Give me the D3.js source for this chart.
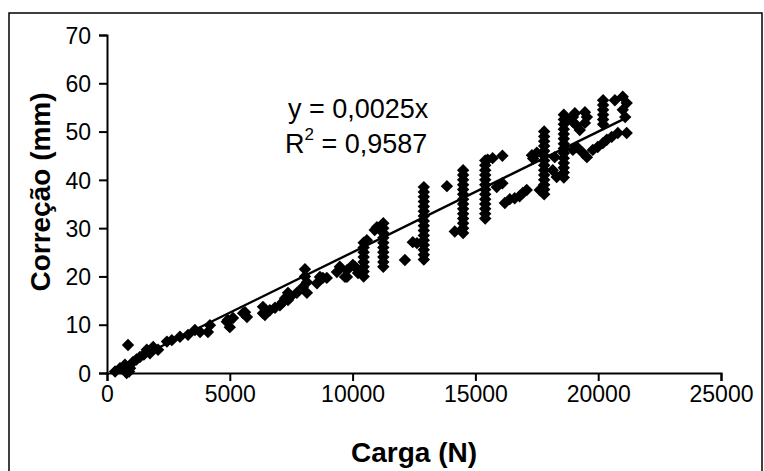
<!DOCTYPE html>
<html lang="pt">
<head>
<meta charset="UTF-8">
<title>Correção x Carga</title>
<script src="https://d3js.org/d3.v7.min.js"></script>
<style>
  body { margin: 0; background: #fff; }
  svg { display: block; }
  .tick text { font-family: "Liberation Sans", Arial, sans-serif; font-size: 23px; fill: #000; }
  .titulo { font-family: "Liberation Sans", Arial, sans-serif; font-weight: bold; font-size: 28px; }
  .equacao { font-family: "Liberation Sans", Arial, sans-serif; font-size: 27px; }
</style>
</head>
<body>
<svg id="chart" width="764" height="471"></svg>
<script>
// eixos
const xTicks = [0, 5000, 10000, 15000, 20000, 25000];
const yTicks = [0, 10, 20, 30, 40, 50, 60, 70];

// pontos isolados [Carga (N), Correção (mm)]
const pontosIsolados = [
  [330, 0.3], [530, 1], [700, 0.8], [800, 0], [900, 0.3], [730, 1.7], [940, 1], [855, 5.8],
  [1060, 2.3], [1200, 2.8], [1340, 3.3], [1500, 3.8], [1620, 4.8], [1750, 4.1], [1880, 5.4],
  [2080, 4.8], [2440, 6.5], [2640, 6.8], [2970, 7.5], [3300, 7.9], [3580, 8.9], [3790, 8.5],
  [4110, 8.5], [4190, 9.9],
  [4880, 10.6], [5000, 9.5], [5130, 11.4], [4920, 11], [5540, 12.4], [5700, 11.6], [5620, 12.6],
  [6350, 12.4], [6350, 13.7], [6430, 12], [6630, 13], [6840, 13.5], [7040, 14], [7160, 14.7],
  [7370, 15.1], [7450, 15.7], [7250, 15.5], [7370, 16.6], [7730, 16.6],
  [8060, 21.5], [8140, 18.8], [8140, 16.6], [7980, 17.8], [8060, 20], [8550, 18.6],
  [8670, 19.9], [8790, 19.7], [8950, 19.7], [9360, 20.9], [9480, 22], [9690, 19.9],
  [9770, 19.9], [9770, 21.3], [10010, 22.4], [10090, 22], [10220, 20.7],
  [10580, 27.5], [10900, 29.6], [10990, 30.2], [12130, 23.4], [12450, 27.1], [12620, 26.9],
  [13840, 38.7], [14160, 29.3],
  [15500, 44.2], [15700, 44.5], [16100, 45], [15870, 38.5], [16100, 39.3], [16200, 35.2],
  [16400, 36], [16600, 36.2], [16800, 36.6], [16930, 37.3], [17090, 37.9], [17300, 45.1],
  [17350, 44.4], [17500, 45.6], [17620, 37.9], [18150, 42], [18230, 44.7], [18310, 40.6],
  [18970, 53], [18970, 52], [19050, 53.8], [19130, 51.2], [19460, 54], [19460, 51.8],
  [19540, 53], [19250, 50.3], [18970, 46.2], [19130, 46.8], [19370, 45.6], [19540, 44.7],
  [19780, 46.2], [19980, 46.8], [20190, 47.6], [20350, 48.3], [20550, 48.9], [20800, 49.7],
  [21160, 49.7], [20680, 56.5], [21000, 57.2], [21160, 55.9], [21000, 54.5], [21100, 53]
];

// colunas de leituras na mesma carga
const colunaCargas = [10450, 11250, 12900, 14500, 15400, 17800, 18600, 20200];
const colunaCorrecoes = [
  [20, 21, 22, 23, 24, 25, 26, 27],
  [22, 23, 24, 25, 26, 27, 28, 29, 30, 31],
  [23.5, 24.5, 25.5, 26.5, 27.5, 28.5, 29.5, 30.5, 31.5, 32.5, 33.5, 34.5, 35.5, 36.5, 37.5, 38.5],
  [29, 30, 31, 32, 33, 34, 35, 36, 37, 38, 39, 40, 41, 42],
  [32, 33, 34, 35, 36, 37, 38, 39, 40, 41, 42, 43, 44],
  [37, 38, 39, 40, 41, 42, 43, 44, 45, 46, 47, 48, 49, 50],
  [40.5, 41.5, 42.5, 43.5, 44.5, 45.5, 46.5, 47.5, 48.5, 49.5, 50.5, 51.5, 52.5, 53.5],
  [51.5, 52.5, 53.5, 54.5, 55.5, 56.5]
];

const inclinacao = 0.0025;
const textoEquacao = "y = 0,0025x";
const textoR2 = " = 0,9587";

const svg = d3.select("#chart");

// moldura externa
svg.append("rect")
  .attr("x", 9).attr("y", 13)
  .attr("width", 753).attr("height", 470)
  .attr("fill", "#fff").attr("stroke", "#000").attr("stroke-width", 1.5);

const x = d3.scaleLinear().domain([0, 25000]).range([107, 721]);
const y = d3.scaleLinear().domain([0, 70]).range([373, 35]);

const dados = pontosIsolados.slice();
colunaCargas.forEach((c, i) => colunaCorrecoes[i].forEach(v => dados.push([c, v])));

// eixo X
const gx = svg.append("g")
  .attr("transform", `translate(0,${y(0)})`)
  .call(d3.axisBottom(x).tickValues(xTicks).tickFormat(d3.format("d")).tickSize(8).tickPadding(5));
// eixo Y
const gy = svg.append("g")
  .attr("transform", `translate(${x(0)},0)`)
  .call(d3.axisLeft(y).tickValues(yTicks).tickSize(8).tickPadding(8));

[gx, gy].forEach(g => {
  g.select(".domain").attr("stroke", "#000").attr("stroke-width", 2);
  g.selectAll(".tick line").attr("stroke", "#000").attr("stroke-width", 2);
});
gy.selectAll(".tick text").attr("dy", "0.36em");

// pontos (losangos)
const s = 6.2;
svg.append("g").selectAll("path")
  .data(dados)
  .join("path")
  .attr("transform", d => `translate(${x(d[0])},${y(d[1])})`)
  .attr("d", `M0,${-s}L${s},0L0,${s}L${-s},0Z`)
  .attr("fill", "#000");

// linha de tendência
const xMin = d3.min(dados, d => d[0]);
const xMax = d3.max(dados, d => d[0]);
svg.append("line")
  .attr("x1", x(xMin)).attr("y1", y(inclinacao * xMin))
  .attr("x2", x(xMax)).attr("y2", y(inclinacao * xMax))
  .attr("stroke", "#000").attr("stroke-width", 2.4);

// equação
svg.append("text").attr("class", "equacao")
  .attr("x", 288).attr("y", 118).text(textoEquacao);
const r2 = svg.append("text").attr("class", "equacao").attr("x", 285).attr("y", 153);
r2.append("tspan").text("R");
r2.append("tspan").attr("dy", -13).attr("font-size", 17).text("2");
r2.append("tspan").attr("dy", 13).text(textoR2);

// títulos
svg.append("text").attr("class", "titulo")
  .attr("text-anchor", "middle")
  .attr("x", 414).attr("y", 462)
  .text("Carga (N)");
svg.append("text").attr("class", "titulo")
  .attr("text-anchor", "middle")
  .attr("transform", "translate(50,192) rotate(-90)")
  .text("Correção (mm)");
</script>
</body>
</html>
